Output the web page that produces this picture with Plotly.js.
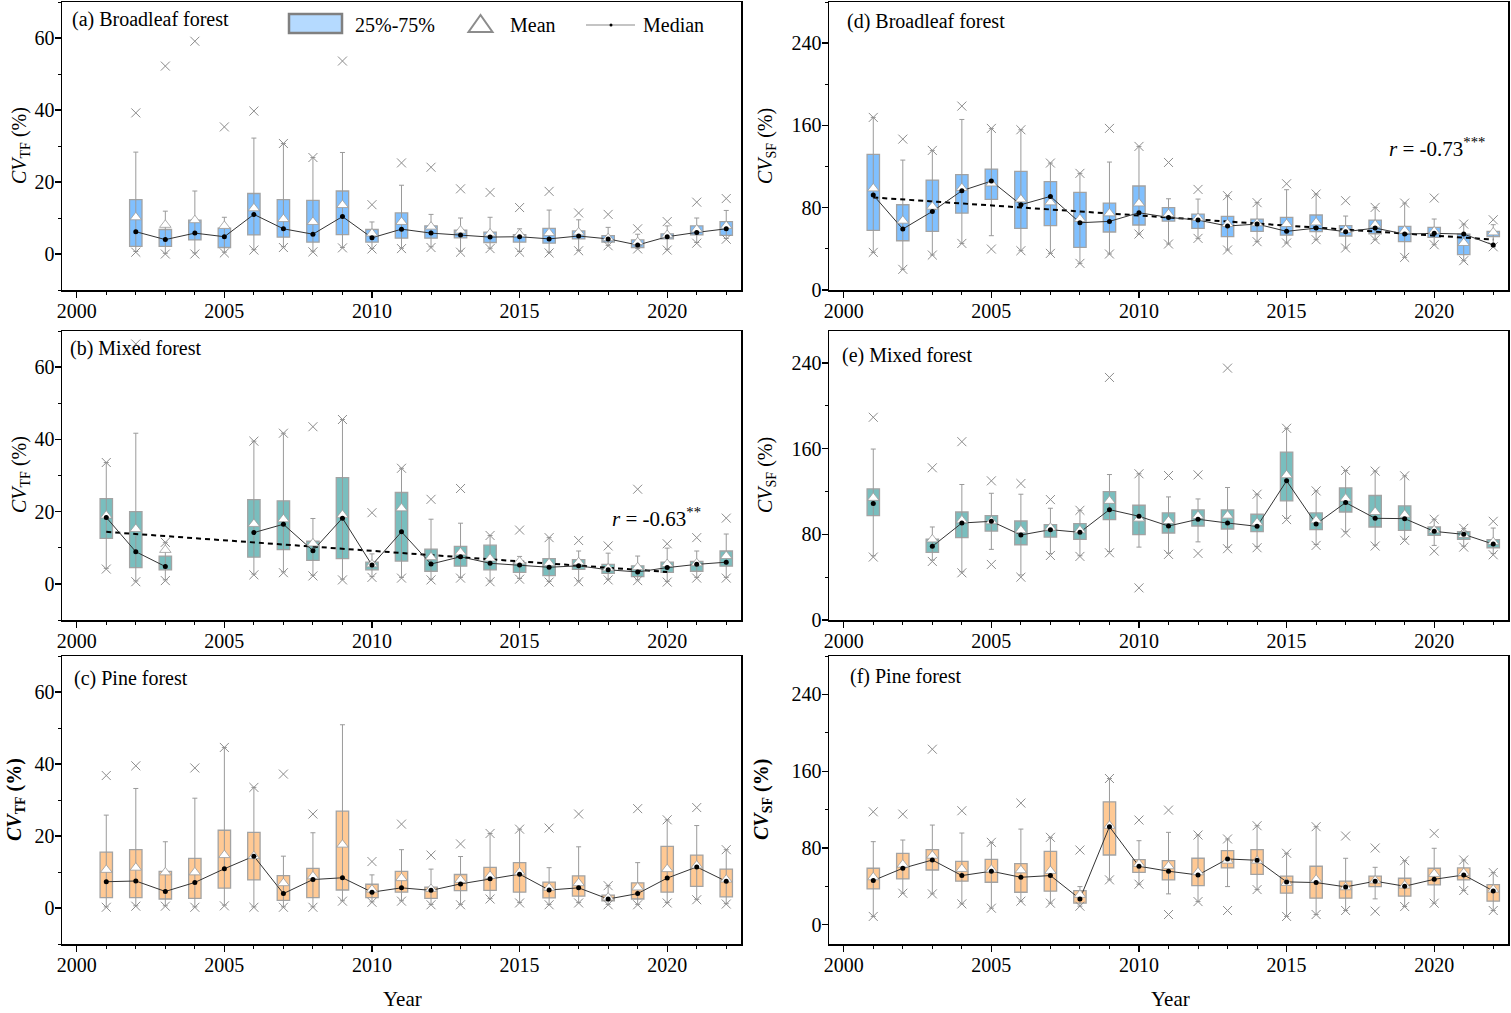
<!DOCTYPE html>
<html>
<head>
<meta charset="utf-8">
<script src="https://cdn.plot.ly/plotly-3.0.1.min.js"></script>
<style>
html,body{margin:0;padding:0;background:#fff;}
#chart{width:1511px;height:1013px;}
</style>
</head>
<body>
<div id="chart"></div>
<script>
// ---------------- DATA ----------------
const years = [2001,2002,2003,2004,2005,2006,2007,2008,2009,2010,2011,2012,2013,2014,2015,2016,2017,2018,2019,2020,2021,2022];

// (a) Broadleaf forest, CV_TF
const hiX_a  = [null,39.2,52.2,59.1,35.3,39.7,30.7,26.8,53.6,13.7,25.3,24.1,18.1,17.1,12.9,17.4,11.4,11.0,7.0,9.0,14.4,15.4];
const hiW_a  = [null,28.3,11.9,17.5,10.2,32.2,30.7,26.8,28.2,8.9,19.1,11.0,10.0,10.2,7.0,12.2,9.5,7.4,5.5,7.8,10.0,12.1];
const q3_a   = [null,15.1,6.8,9.4,7.2,16.8,15.1,14.9,17.5,6.8,11.4,7.8,6.6,6.1,5.4,7.1,6.4,5.1,3.9,5.6,7.8,9.0];
const mean_a = [null,10.2,8.1,9.4,7.8,12.7,9.7,8.9,13.6,5.7,8.9,7.6,6.5,5.7,5.5,5.8,6.0,4.4,3.3,5.3,6.8,7.8];
const med_a  = [null,6.2,4.0,5.8,4.8,11.0,7.0,5.5,10.4,4.5,6.9,5.8,5.3,4.7,4.8,4.2,5.0,4.2,2.5,4.8,6.0,7.0];
const q1_a   = [null,2.1,2.1,3.9,1.8,5.3,4.7,3.3,5.4,3.3,4.4,4.4,4.5,3.2,3.3,3.0,4.2,3.3,1.8,4.2,5.3,5.2];
const loW_a  = [null,0.7,0.2,0.3,0.5,1.2,2.0,0.8,1.8,1.5,1.6,2.0,0.8,1.6,0.7,0.5,1.0,2.4,1.5,1.3,3.2,4.3];
const loX_a  = [null,0.5,0.0,0.0,0.3,1.1,1.8,0.6,1.7,1.4,1.5,1.8,0.5,1.5,0.5,0.3,0.9,2.3,1.4,1.1,3.0,4.1];

// (b) Mixed forest, CV_TF
const hiX_b  = [33.6,66.4,11.5,null,null,39.5,41.7,43.5,45.5,19.7,32.0,23.4,26.4,13.4,14.9,12.8,12.0,10.5,26.2,11.1,12.8,18.2];
const hiW_b  = [33.6,41.7,11.5,null,null,39.5,41.7,18.1,45.5,8.3,32.0,17.9,16.8,13.4,7.6,12.8,9.1,8.5,7.7,9.9,9.1,13.8];
const q3_b   = [23.6,20.0,7.7,null,null,23.3,23.0,11.8,29.4,6.0,25.3,9.6,10.4,10.7,5.9,7.0,6.7,5.4,5.0,6.0,6.2,9.1];
const mean_b = [18.9,15.2,9.4,null,null,16.6,17.9,11.2,19.1,5.4,20.9,7.4,8.7,7.0,6.2,5.7,6.0,4.3,4.6,5.5,5.7,7.7];
const med_b  = [18.4,8.9,4.8,null,null,14.2,16.5,9.2,18.2,5.2,14.4,5.5,7.5,5.7,5.2,4.6,5.0,3.9,3.3,4.5,5.4,6.0];
const q1_b   = [12.6,4.5,3.9,null,null,7.4,9.5,6.5,7.0,3.9,6.3,3.5,4.9,3.9,3.2,2.3,4.0,2.9,2.0,3.2,3.5,4.9];
const loW_b  = [4.3,0.8,1.1,null,null,2.7,3.3,2.4,1.3,2.0,1.8,1.3,1.8,0.8,1.5,0.7,0.8,1.3,1.1,0.7,1.8,1.8];
const loX_b  = [4.1,0.6,0.9,null,null,2.5,3.1,2.2,1.1,1.8,1.6,1.1,1.6,0.6,1.3,0.5,0.6,1.1,0.9,0.5,1.6,1.6];
const trendX_b = [2001,2020];
const trendY_b = [14.4,3.3];

// (c) Pine forest, CV_TF
const hiX_c  = [36.8,39.5,null,38.9,44.6,33.5,37.2,26.1,null,12.9,23.3,14.7,17.8,20.7,21.9,22.2,26.1,6.2,27.6,24.5,27.9,16.2];
const hiW_c  = [25.8,33.2,18.4,30.5,44.6,33.5,14.4,20.9,50.9,9.2,16.2,10.8,14.3,20.7,21.9,11.2,17.0,6.2,12.6,24.5,22.9,16.2];
const q3_c   = [15.5,16.2,10.2,13.8,21.6,21.0,9.0,11.0,26.9,6.6,10.2,5.8,9.3,11.3,12.6,7.2,8.9,3.6,7.0,17.1,14.7,10.8];
const mean_c = [10.6,11.2,9.9,9.9,14.7,14.4,6.9,8.8,17.6,5.1,8.3,5.3,7.8,8.9,9.9,5.6,6.9,2.9,5.7,10.8,11.8,7.9];
const med_c  = [7.3,7.5,4.6,7.1,10.9,14.4,4.0,7.9,8.4,4.4,5.6,4.9,6.7,8.1,9.4,5.0,5.6,2.5,4.0,8.3,11.4,7.4];
const q1_c   = [2.9,2.9,2.5,2.7,5.5,7.8,2.1,2.9,5.0,2.9,4.4,2.7,4.8,4.9,4.4,2.8,3.3,2.0,2.5,4.4,6.0,3.1];
const loW_c  = [0.3,0.6,0.6,0.3,0.8,0.3,0.3,0.3,2.0,1.7,2.0,1.0,1.0,2.6,1.5,1.0,1.5,1.0,1.0,1.5,2.4,1.2];
const loX_c  = [0.2,0.5,0.5,0.2,0.6,0.2,0.2,0.2,1.9,1.6,1.9,0.9,0.9,2.5,1.4,0.9,1.4,0.9,0.9,1.4,2.3,1.1];

// (d) Broadleaf forest, CV_SF
const hiX_d  = [167.8,146.7,135.7,178.8,157.1,155.8,123.4,113.4,157.1,139.6,124.0,97.8,91.7,84.9,103.3,93.3,86.8,80.3,84.5,89.4,64.1,68.3];
const hiW_d  = [167.8,126.3,135.7,165.8,157.1,155.8,123.4,113.4,124.4,139.6,88.7,88.4,91.7,84.9,97.5,93.3,71.9,80.3,84.5,69.0,64.1,63.5];
const q3_d   = [131.8,82.9,106.9,112.1,117.6,115.3,105.3,94.9,84.5,101.1,80.0,73.8,71.6,69.0,70.6,72.9,62.5,68.0,61.9,60.9,54.4,57.0];
const mean_d = [98.8,67.4,81.0,99.1,103.6,88.1,85.2,69.0,74.5,84.2,73.8,70.0,64.1,64.8,64.1,65.7,58.3,63.5,57.7,57.0,45.7,56.0];
const med_d  = [92.3,59.3,76.4,96.5,105.9,82.9,91.0,65.4,66.7,75.1,70.6,68.0,62.2,64.1,57.0,60.2,56.7,60.2,54.4,55.1,54.4,43.7];
const q1_d   = [58.0,47.9,57.0,74.8,88.1,59.9,62.5,41.5,56.4,63.2,67.0,59.9,51.8,57.0,53.4,56.7,52.5,54.7,47.0,51.2,34.3,51.8];
const loW_d  = [36.6,20.1,34.0,45.3,52.8,38.2,35.6,25.9,35.0,54.4,44.7,50.2,38.9,47.0,45.7,48.9,40.8,48.9,31.7,44.0,28.5,42.0];
const loX_d  = [36.6,20.1,34.0,45.3,39.8,38.2,35.6,25.9,35.0,54.4,44.7,50.2,38.9,47.0,45.7,48.9,40.8,48.9,31.7,44.0,28.5,42.0];
const trendX_d = [2001,2022];
const trendY_d = [90.0,49.0];

// (e) Mixed forest, CV_SF
const hiX_e  = [189.4,null,142.2,166.6,130.0,127.5,112.5,102.5,226.6,136.6,135.0,135.6,235.3,117.5,179.1,120.6,139.7,139.1,134.7,94.1,85.6,92.2];
const hiW_e  = [159.7,null,86.9,126.6,118.4,117.5,104.4,102.5,135.9,136.6,115.0,113.1,123.8,117.5,179.1,120.6,139.7,139.1,134.7,94.1,85.6,85.9];
const q3_e   = [122.5,null,75.6,100.9,97.5,92.5,89.1,90.0,120.0,107.2,100.0,102.8,102.8,98.8,156.9,100.0,123.4,116.3,106.6,86.9,82.5,75.0];
const mean_e = [114.1,null,75.3,93.1,92.2,83.8,86.3,83.8,111.3,94.7,92.5,97.2,97.5,90.9,135.3,93.1,113.4,100.9,98.4,83.8,79.4,72.8];
const med_e  = [108.8,null,68.8,90.6,92.2,79.4,84.4,81.9,103.1,96.9,87.8,94.1,90.6,87.5,130.0,89.7,109.7,95.0,94.7,82.8,80.0,70.9];
const q1_e   = [97.5,null,63.1,76.9,83.1,70.3,77.5,75.3,93.8,79.7,81.3,87.8,85.0,82.5,111.3,84.4,100.9,86.9,83.8,79.1,75.3,67.5];
const loW_e  = [60.0,null,56.0,45.0,66.0,42.0,62.0,60.0,64.0,68.1,62.5,73.0,68.0,68.5,95.0,70.5,82.5,70.0,75.5,69.7,69.0,62.0];
const loX_e  = [58.8,null,54.7,44.1,51.9,40.0,60.3,59.4,62.8,30.0,61.3,62.2,66.6,67.5,93.8,69.7,81.3,69.1,74.4,64.4,68.1,60.9];

// (f) Pine forest, CV_SF
const hiX_f  = [117.7,115.3,182.9,118.8,85.9,126.8,91.1,77.9,152.4,109.1,119.5,93.5,89.4,103.2,74.5,102.2,92.5,80.0,66.8,95.2,67.5,54.4];
const hiW_f  = [86.6,88.3,103.9,95.6,85.9,99.7,91.1,39.8,152.4,87.6,96.3,93.5,89.4,103.2,74.5,102.2,69.3,59.9,66.8,79.7,67.5,54.4];
const q3_f   = [58.9,74.5,78.3,66.1,68.2,63.7,76.5,35.7,128.1,67.9,66.8,69.3,77.2,78.3,50.6,61.0,45.4,50.6,48.5,58.9,59.2,41.9];
const mean_f = [49.5,62.7,72.0,58.2,57.5,56.8,56.1,31.2,103.2,63.4,61.0,54.7,66.8,66.8,43.6,47.1,39.1,46.1,40.9,53.0,54.0,36.7];
const med_f  = [46.1,58.9,67.5,51.3,55.8,49.5,51.3,27.0,102.2,61.0,55.8,51.9,68.6,67.2,44.7,44.0,39.5,45.4,40.2,47.4,51.9,35.3];
const q1_f   = [37.4,47.8,57.1,45.4,44.3,33.9,35.0,22.5,72.7,54.7,46.8,40.9,59.2,52.6,32.9,27.7,27.7,39.8,29.8,41.6,46.8,24.6];
const loW_f  = [8.7,32.9,32.2,21.8,17.3,24.6,22.5,19.4,46.8,42.3,32.2,24.2,39.8,36.7,8.7,10.7,14.9,27.0,19.0,22.5,35.7,14.9];
const loX_f  = [8.7,32.9,32.2,21.8,17.3,24.6,22.5,19.4,46.8,42.3,10.7,24.2,14.9,36.7,8.7,10.7,14.9,14.2,19.0,22.5,35.7,14.9];

const panelLabels = ['(a) Broadleaf forest','(b) Mixed forest','(c) Pine forest','(d) Broadleaf forest','(e) Mixed forest','(f) Pine forest'];
const rTexts = ['<i>r</i> = -0.63<sup>**</sup>','<i>r</i> = -0.73<sup>***</sup>'];
const legendTexts = ['25%-75%','Mean','Median'];

// ---------------- STYLE / LAYOUT ----------------
const W = 1511, H = 1013;
const PX = v => v / W;
const PY = v => 1 - v / H;
const FONT = 'Liberation Serif, Times New Roman, serif';
const BLUE = '#80c0ff', TEAL = '#79bebe', PEACH = '#ffc994';

const panels = [
  {ax:'', q1:q1_a,q3:q3_a,med:med_a,mean:mean_a,hiW:hiW_a,loW:loW_a,hiX:hiX_a,loX:loX_a,fill:BLUE},
  {ax:'2',q1:q1_b,q3:q3_b,med:med_b,mean:mean_b,hiW:hiW_b,loW:loW_b,hiX:hiX_b,loX:loX_b,fill:TEAL,tx:trendX_b,ty:trendY_b},
  {ax:'3',q1:q1_c,q3:q3_c,med:med_c,mean:mean_c,hiW:hiW_c,loW:loW_c,hiX:hiX_c,loX:loX_c,fill:PEACH},
  {ax:'4',q1:q1_d,q3:q3_d,med:med_d,mean:mean_d,hiW:hiW_d,loW:loW_d,hiX:hiX_d,loX:loX_d,fill:BLUE,tx:trendX_d,ty:trendY_d},
  {ax:'5',q1:q1_e,q3:q3_e,med:med_e,mean:mean_e,hiW:hiW_e,loW:loW_e,hiX:hiX_e,loX:loX_e,fill:TEAL},
  {ax:'6',q1:q1_f,q3:q3_f,med:med_f,mean:mean_f,hiW:hiW_f,loW:loW_f,hiX:hiX_f,loX:loX_f,fill:PEACH}
];

const traces = [];
panels.forEach(p => {
  const xa = 'x' + p.ax, ya = 'y' + p.ax;
  const sub = (a, b) => a.map((v, i) => (v == null || b[i] == null) ? null : +(v - b[i]).toFixed(3));
  // whiskers
  traces.push({
    type:'scatter', mode:'markers', x:years, y:p.q1, xaxis:xa, yaxis:ya,
    marker:{size:2, color:'rgba(0,0,0,0)'},
    error_y:{type:'data', symmetric:false, array:sub(p.hiW, p.q1), arrayminus:sub(p.q1, p.loW),
             color:'#9a9a9a', thickness:1, width:2.5},
    hoverinfo:'skip', showlegend:false
  });
  // boxes
  traces.push({
    type:'bar', x:years, base:p.q1, y:sub(p.q3, p.q1), xaxis:xa, yaxis:ya, width:0.42,
    marker:{color:p.fill, line:{color:'#a3a3a3', width:1.3}},
    hoverinfo:'skip', showlegend:false
  });
  // extreme markers
  traces.push({
    type:'scatter', mode:'markers', x:years.concat(years), y:p.hiX.concat(p.loX), xaxis:xa, yaxis:ya,
    marker:{symbol:'x-thin', size:9, color:'#8c8c8c', line:{color:'#8c8c8c', width:1}},
    hoverinfo:'skip', showlegend:false, cliponaxis:false
  });
  // trend line
  if (p.tx) {
    traces.push({
      type:'scatter', mode:'lines', x:p.tx, y:p.ty, xaxis:xa, yaxis:ya,
      line:{color:'#000', width:2, dash:'5px,4px'}, hoverinfo:'skip', showlegend:false
    });
  }
  // median line
  traces.push({
    type:'scatter', mode:'lines', x:years, y:p.med, xaxis:xa, yaxis:ya, connectgaps:false,
    line:{color:'#333', width:1}, hoverinfo:'skip', showlegend:false
  });
  // mean triangles
  traces.push({
    type:'scatter', mode:'markers', x:years, y:p.mean, xaxis:xa, yaxis:ya,
    marker:{symbol:'triangle-up', size:10, color:'#fff', line:{color:'#9a9a9a', width:0.8}},
    hoverinfo:'skip', showlegend:false
  });
  // median dots
  traces.push({
    type:'scatter', mode:'markers', x:years, y:p.med, xaxis:xa, yaxis:ya,
    marker:{symbol:'circle', size:5, color:'#000'},
    hoverinfo:'skip', showlegend:false
  });
});

const colX = [[PX(62), PX(741)], [PX(829), PX(1508)]];
const rowY = [[PY(290), PY(2)], [PY(620), PY(331)], [PY(944), PY(656)]];
const yRanges = [[-10,70],[-10,70],[-10,70],[0,280],[0,270],[-20,280]];

function xAxis(col, anchor) {
  return {
    domain: colX[col], anchor: anchor, range:[1999.5, 2022.5],
    tick0:2000, dtick:5, ticks:'outside', ticklen:6, tickwidth:1.3, tickcolor:'#000',
    ticklabelstandoff:-4,
    minor:{dtick:1, tick0:2000, ticks:'outside', ticklen:3, tickwidth:1, tickcolor:'#000', showgrid:false},
    showline:true, mirror:true, linecolor:'#000', linewidth:1.5,
    showgrid:false, zeroline:false, fixedrange:true,
    tickfont:{family:FONT, size:20, color:'#000'}
  };
}
function yAxis(i, anchor) {
  const left = i < 3;
  const row = i % 3;
  return {
    domain: rowY[row], anchor: anchor, range: yRanges[i],
    tick0:0, dtick: left ? 20 : 80, ticks:'outside', ticklen:6, tickwidth:1.3, tickcolor:'#000',
    ticklabelstandoff:-4,
    minor:{dtick: left ? 10 : 40, tick0:0, ticks:'outside', ticklen:3, tickwidth:1, tickcolor:'#000', showgrid:false},
    showline:true, mirror:true, linecolor:'#000', linewidth:1.5,
    showgrid:false, zeroline:false, fixedrange:true,
    tickfont:{family:FONT, size:20, color:'#000'}
  };
}

const layout = {
  width:W, height:H, margin:{l:0,r:0,t:0,b:0},
  paper_bgcolor:'#fff', plot_bgcolor:'#fff', showlegend:false, hovermode:false,
  barmode:'overlay',
  font:{family:FONT, size:20, color:'#000'},
  shapes:[], annotations:[]
};
['','2','3','4','5','6'].forEach((s, i) => {
  layout['xaxis' + s] = xAxis(i < 3 ? 0 : 1, 'y' + s);
  layout['yaxis' + s] = yAxis(i, 'x' + s);
});

// panel labels
const labelPos = [[70,20],[68,348],[72,678],[845,22],[840,355],[848,676]];
panelLabels.forEach((t, i) => {
  layout.annotations.push({text:t, xref:'paper', yref:'paper', x:PX(labelPos[i][0]), y:PY(labelPos[i][1]),
    xanchor:'left', yanchor:'middle', showarrow:false, font:{family:FONT, size:20, color:'#000'}});
});
// y titles
const yTitlePos = [[20,146,false],[20,475,false],[15,800,true],[766,146,false],[766,475,false],[762,800,true]];
yTitlePos.forEach((p, i) => {
  const sub = i < 3 ? 'TF' : 'SF';
  let t = '<i>CV</i><sub>' + sub + '</sub> (%)';
  if (p[2]) t = '<b>' + t + '</b>';
  layout.annotations.push({text:t, xref:'paper', yref:'paper', x:PX(p[0]), y:PY(p[1]), textangle:-90,
    xanchor:'center', yanchor:'middle', showarrow:false, font:{family:FONT, size:20, color:'#000'}});
});
// x titles
[[402,999],[1170,999]].forEach(p => {
  layout.annotations.push({text:'Year', xref:'paper', yref:'paper', x:PX(p[0]), y:PY(p[1]),
    xanchor:'center', yanchor:'middle', showarrow:false, font:{family:FONT, size:21, color:'#000'}});
});
// r annotations
[[656,517],[1437,147]].forEach((p, i) => {
  layout.annotations.push({text:rTexts[i], xref:'paper', yref:'paper', x:PX(p[0]), y:PY(p[1]),
    xanchor:'center', yanchor:'middle', showarrow:false, font:{family:FONT, size:21, color:'#000'}});
});

// legend (drawn in panel a)
layout.shapes.push({type:'rect', xref:'paper', yref:'paper', x0:PX(289), x1:PX(342), y0:PY(33), y1:PY(14),
  fillcolor:'#b5daff', line:{color:'#808080', width:2.5}});
layout.shapes.push({type:'path', xref:'paper', yref:'paper',
  path:'M '+PX(480.5)+' '+PY(15)+' L '+PX(468.5)+' '+PY(32)+' L '+PX(492.5)+' '+PY(32)+' Z',
  fillcolor:'#fff', line:{color:'#8c8c8c', width:2}});
layout.shapes.push({type:'line', xref:'paper', yref:'paper', x0:PX(586), x1:PX(635), y0:PY(25), y1:PY(25),
  line:{color:'#b0b0b0', width:1.5}});
layout.shapes.push({type:'circle', xref:'paper', yref:'paper', x0:PX(609.5), x1:PX(612.5), y0:PY(26.5), y1:PY(23.5),
  fillcolor:'#000', line:{color:'#000', width:0}});
[[353,legendTexts[0]],[508,legendTexts[1]],[641,legendTexts[2]]].forEach(p => {
  layout.annotations.push({text:p[1], xref:'paper', yref:'paper', x:PX(p[0]), y:PY(25),
    xanchor:'left', yanchor:'middle', showarrow:false, font:{family:FONT, size:20, color:'#000'}});
});

Plotly.newPlot('chart', traces, layout, {staticPlot:true, displayModeBar:false});
</script>
</body>
</html>
